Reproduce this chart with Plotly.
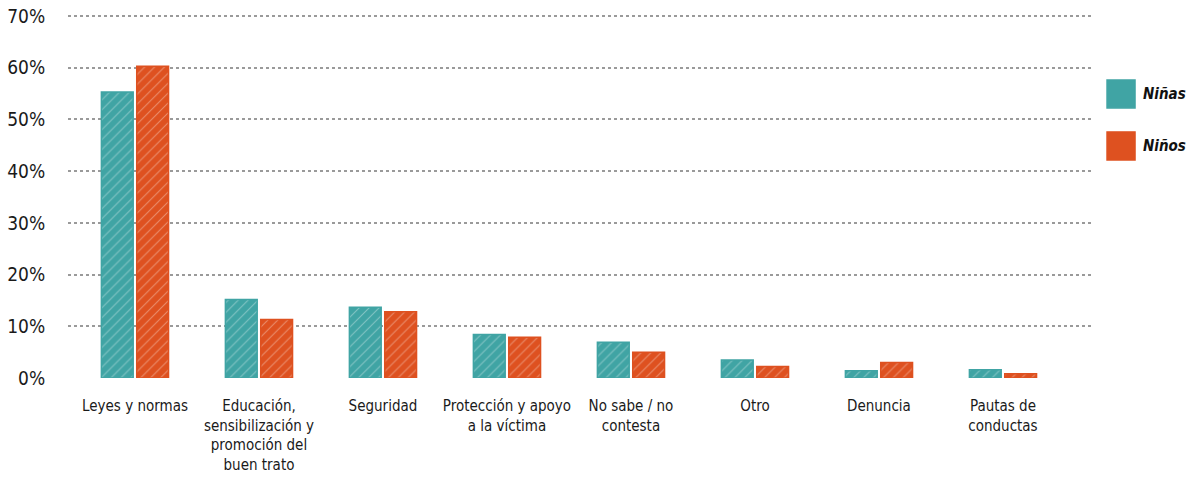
import plotly.graph_objects as go

categories = [
    "Leyes y normas",
    "Educación,<br>sensibilización y<br>promoción del<br>buen trato",
    "Seguridad",
    "Protección y apoyo<br>a la víctima",
    "No sabe / no<br>contesta",
    "Otro",
    "Denuncia",
    "Pautas de<br>conductas",
]
ninas = [55.3, 15.2, 13.7, 8.4, 6.9, 3.5, 1.4, 1.6]
ninos = [60.3, 11.3, 12.8, 7.9, 5.0, 2.2, 3.0, 0.8]
series_names = ["Niñas", "Niños"]
y_ticks = [0, 10, 20, 30, 40, 50, 60, 70]
y_tick_labels = [f"{v}%" for v in y_ticks]

TEAL = "#40A4A4"
ORANGE = "#DE5120"
FONT = "DejaVu Sans Condensed, Roboto, sans-serif"

fig = go.Figure()
for name, vals, col in [(series_names[0], ninas, TEAL), (series_names[1], ninos, ORANGE)]:
    fig.add_trace(go.Bar(
        x=categories, y=vals, name=name, showlegend=False,
        marker=dict(
            color=col,
            line=dict(color=col, width=1.5),
            pattern=dict(shape="/", fgcolor="white", fgopacity=0.35, size=7, solidity=0.15),
        ),
    ))

fig.update_layout(
    width=1195, height=502,
    margin=dict(l=68, r=102, t=15, b=124),
    paper_bgcolor="white", plot_bgcolor="white",
    barmode="group", bargap=0.43, bargroupgap=0.1,
    font=dict(family=FONT, color="#1a1a1a"),
    xaxis=dict(
        range=[-0.54, 7.726], showgrid=False, showline=False, automargin=False,
        ticks="outside", ticklen=14, tickcolor="rgba(0,0,0,0)",
        tickfont=dict(size=15, family=FONT, color="#1a1a1a"),
        tickangle=0,
    ),
    yaxis=dict(
        range=[0, 70.2], tickvals=y_ticks, ticktext=y_tick_labels, automargin=False,
        ticklabeloverflow="allow",
        showgrid=True, gridcolor="#9a9a9a", gridwidth=2, griddash="dot",
        zeroline=False, showline=False,
        ticks="outside", ticklen=18, tickcolor="rgba(0,0,0,0)",
        tickfont=dict(size=19, family=FONT, color="#1a1a1a"),
    ),
)

# legend drawn in paper coordinates
legend_items = [(series_names[0], TEAL, 0.821, 0.744, 0.782), (series_names[1], ORANGE, 0.678, 0.6006, 0.639)]
for name, col, y1, y0, ty in legend_items:
    fig.add_shape(type="rect", xref="paper", yref="paper",
                  x0=1.0137, x1=1.041, y0=y0, y1=y1,
                  fillcolor=col, line=dict(color=col, width=1.5))
    fig.add_annotation(xref="paper", yref="paper", x=1.0468, y=ty, xanchor="left", yanchor="middle",
                       text=f"<b><i>{name}</i></b>", showarrow=False,
                       font=dict(size=15, family=FONT, color="#111111"))

fig.write_html("out.html", config={"displayModeBar": False},
               post_script="document.body.style.margin='0px';")
